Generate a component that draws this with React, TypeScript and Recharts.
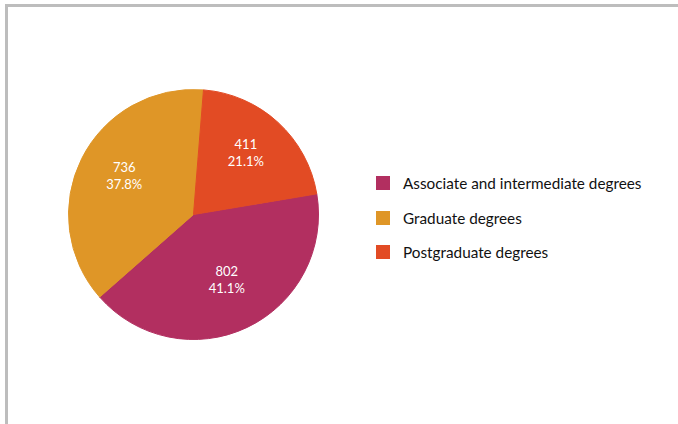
import { PieChart, Pie, Cell } from 'recharts';

const categories = ['Associate and intermediate degrees', 'Graduate degrees', 'Postgraduate degrees'];
const values = [802, 736, 411];
const colors = ['#b22f60', '#df9627', '#e24b24'];

const data = categories.map((name, i) => ({ name, value: values[i] }));

const RADIAN = Math.PI / 180;
const FONT = 'Lato, "Open Sans", sans-serif';

function SliceLabel(props: any) {
  const { cx, cy, midAngle, outerRadius, value, percent } = props;
  const r = outerRadius * 0.62;
  const x = cx + r * Math.cos(-midAngle * RADIAN);
  const y = cy + r * Math.sin(-midAngle * RADIAN);
  return (
    <text x={x} y={y} fill="#fff" textAnchor="middle" fontSize={13} fontFamily={FONT}>
      <tspan x={x} dy={-8}>{value}</tspan>
      <tspan x={x} dy={17}>{(percent * 100).toFixed(1)}%</tspan>
    </text>
  );
}

function LegendList() {
  return (
    <div style={{ position: 'absolute', left: 376, top: 166, fontFamily: FONT, fontSize: 15.3, color: '#111' }}>
      {data.map((d, i) => (
        <div key={d.name} style={{ display: 'flex', alignItems: 'center', height: 34.5 }}>
          <span style={{ width: 14, height: 14, background: colors[i], marginRight: 13, display: 'inline-block' }} />
          <span>{d.name}</span>
        </div>
      ))}
    </div>
  );
}

export default function App() {
  return (
    <div style={{ position: 'absolute', left: 0, top: 0, width: 678, height: 424, background: '#fff', overflow: 'hidden' }}>
      <div
        style={{
          position: 'absolute',
          left: 5,
          top: 4,
          width: 700,
          height: 440,
          borderTop: '3px solid #bdbdbd',
          borderLeft: '3px solid #bdbdbd',
        }}
      />
      <div style={{ position: 'absolute', left: 0, top: 0 }}>
        <PieChart width={678} height={424} margin={{ top: 0, right: 0, bottom: 0, left: 0 }}>
          <Pie
            data={data}
            dataKey="value"
            nameKey="name"
            cx={193.5}
            cy={214.5}
            outerRadius={125}
            startAngle={9.5}
            endAngle={-350.5}
            label={SliceLabel}
            labelLine={false}
            isAnimationActive={false}
          >
            {data.map((d, i) => (
              <Cell key={d.name} fill={colors[i]} stroke={colors[i]} />
            ))}
          </Pie>
        </PieChart>
      </div>
      <LegendList />
    </div>
  );
}
